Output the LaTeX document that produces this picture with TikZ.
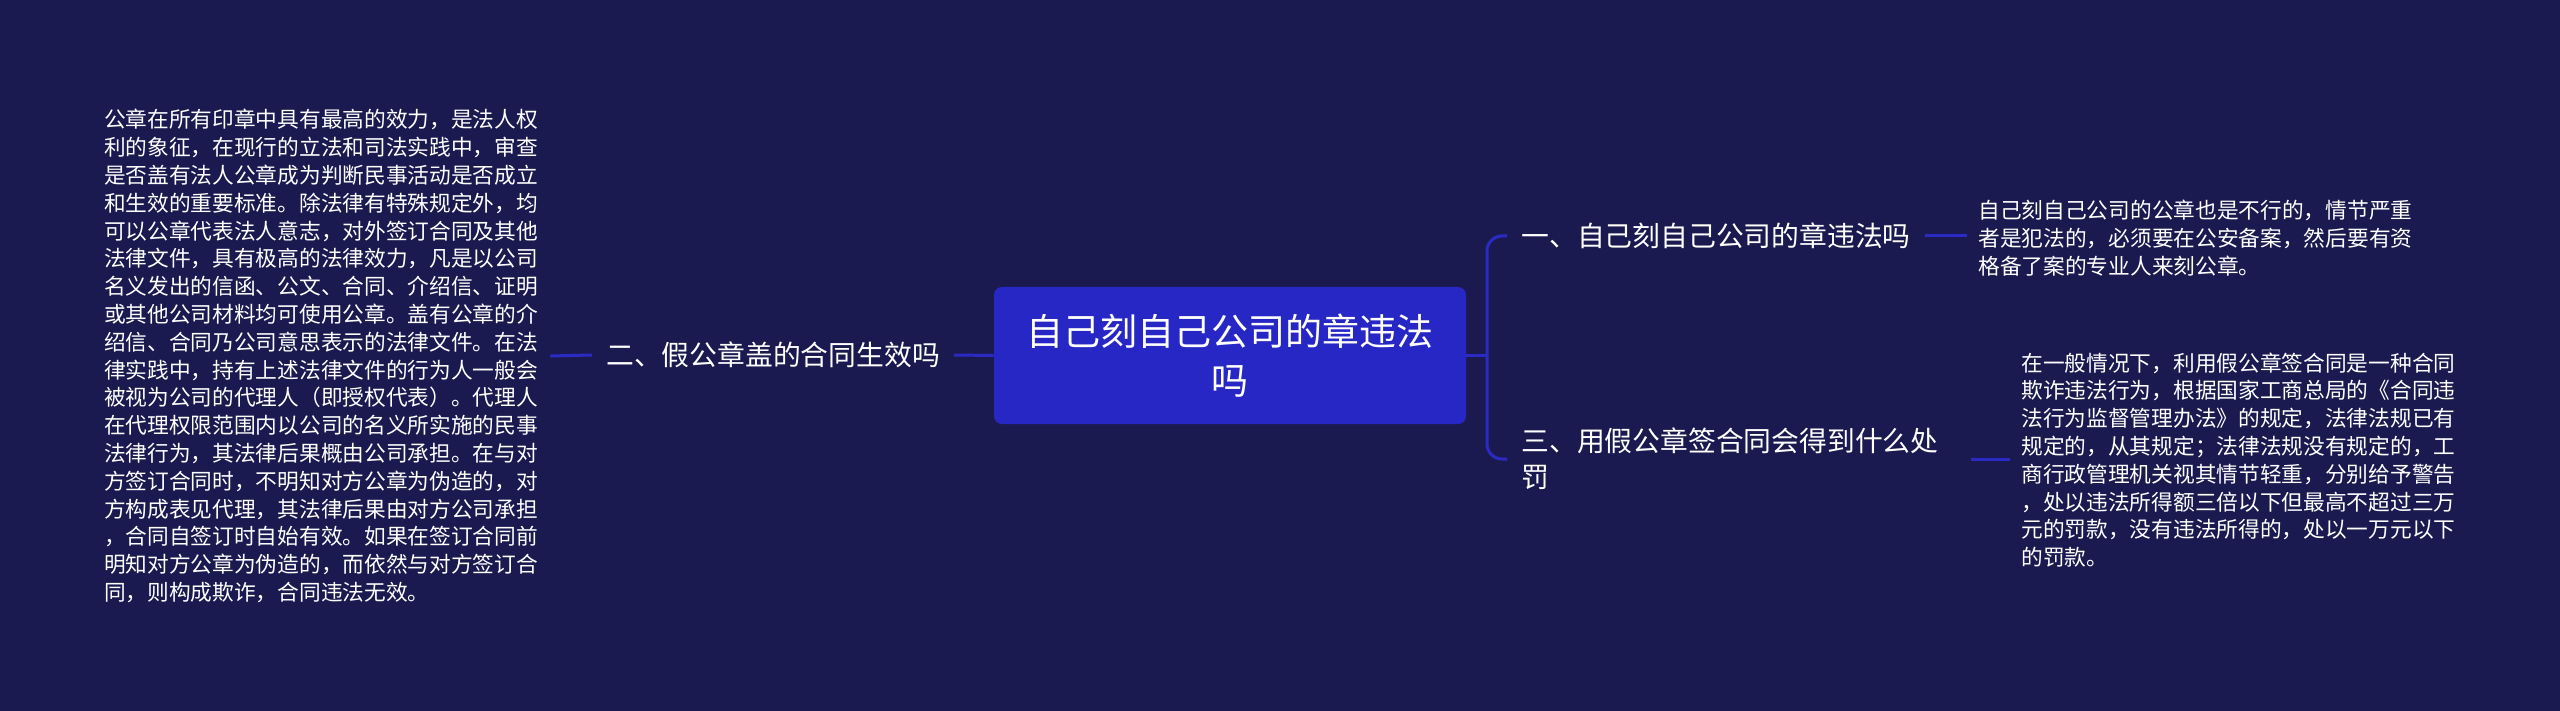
\documentclass[tikz,border=0pt]{standalone}
\usepackage{fontspec}
\setmainfont{Noto Sans CJK SC}
\definecolor{bg}{HTML}{1B1A50}
\definecolor{boxblue}{HTML}{2727C6}
\definecolor{linkblue}{HTML}{2B2BC4}
\tikzset{
  centralbox/.style={fill=boxblue, rounded corners=4pt, text=white, align=center,
    minimum width=236pt, minimum height=68.5pt, inner sep=0pt,
    font=\fontsize{18.5}{24.5}\selectfont},
  branchnode/.style={text=white, align=left, inner xsep=7pt, inner ysep=3pt,
    font=\fontsize{13.9}{18}\selectfont},
  leaftext/.style={text=white, align=left, inner ysep=3pt,
    font=\fontsize{10.85}{13.9}\selectfont},
  link/.style={draw=linkblue, line width=1.5pt}
}
\begin{document}
\begin{tikzpicture}[x=0.5pt,y=-0.5pt]
\path[use as bounding box, fill=bg] (0,0) rectangle (2560,711);

\node[centralbox] (c) at (1230,355.5) {自己刻自己公司的章违法\\吗};

% left branch
\node[branchnode] (b2) at (773,355) {二、假公章盖的合同生效吗};
\node[leaftext, inner xsep=6pt] (t2) at (321,356) {公章在所有印章中具有最高的效力，是法人权\\
利的象征，在现行的立法和司法实践中，审查\\
是否盖有法人公章成为判断民事活动是否成立\\
和生效的重要标准。除法律有特殊规定外，均\\
可以公章代表法人意志，对外签订合同及其他\\
法律文件，具有极高的法律效力，凡是以公司\\
名义发出的信函、公文、合同、介绍信、证明\\
或其他公司材料均可使用公章。盖有公章的介\\
绍信、合同乃公司意思表示的法律文件。在法\\
律实践中，持有上述法律文件的行为人一般会\\
被视为公司的代理人（即授权代表）。代理人\\
在代理权限范围内以公司的名义所实施的民事\\
法律行为，其法律后果概由公司承担。在与对\\
方签订合同时，不明知对方公章为伪造的，对\\
方构成表见代理，其法律后果由对方公司承担\\
，合同自签订时自始有效。如果在签订合同前\\
明知对方公章为伪造的，而依然与对方签订合\\
同，则构成欺诈，合同违法无效。};

% right branches
\node[branchnode, anchor=west] (b1) at (1507,236) {一、自己刻自己公司的章违法吗};
\node[branchnode, anchor=west, text width=217.5pt] (b3) at (1507,459) {三、用假公章签合同会得到什么处\\罚};

\node[leaftext, inner xsep=5.5pt, anchor=west] (t1) at (1967,238) {自己刻自己公司的公章也是不行的，情节严重\\
者是犯法的，必须要在公安备案，然后要有资\\
格备了案的专业人来刻公章。};
\node[leaftext, inner xsep=5.5pt, anchor=west] (t3) at (2010,460) {在一般情况下，利用假公章签合同是一种合同\\
欺诈违法行为，根据国家工商总局的《合同违\\
法行为监督管理办法》的规定，法律法规已有\\
规定的，从其规定；法律法规没有规定的，工\\
商行政管理机关视其情节轻重，分别给予警告\\
，处以违法所得额三倍以下但最高不超过三万\\
元的罚款，没有违法所得的，处以一万元以下\\
的罚款。};

% connectors
\coordinate (fork) at (1487,355.5);
\draw[link] (c.west) -- (b2.east);
\draw[link] (b2.west) -- (t2.east);
\draw[link] (c.east) -- (fork);
\draw[link, rounded corners=7.5pt] (b1.west) -| (fork) |- (b3.west);
\draw[link] (b1.east) -- (b1.east -| t1.west);
\draw[link] (b3.east) -- (b3.east -| t3.west);
\end{tikzpicture}
\end{document}
